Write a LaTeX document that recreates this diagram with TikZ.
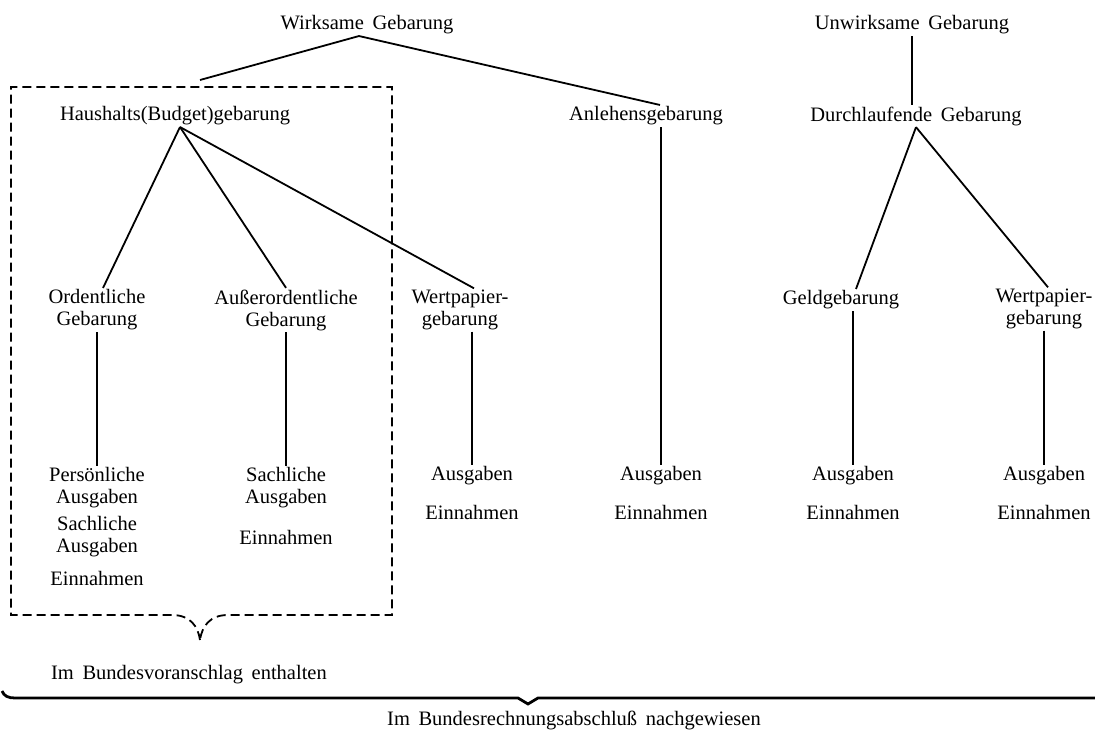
\documentclass[tikz,border=0pt]{standalone}
\usepackage{fontspec}
\setmainfont{Liberation Serif}
\usetikzlibrary{calc}
\newcommand\mylblfont{\fontsize{20.5}{22}\selectfont\spaceskip=0.42em plus 0.1em minus 0.05em\relax}
\begin{document}
\begin{tikzpicture}[x=1pt,y=-1pt,
  lbl/.style={inner sep=1.5pt, align=center, font=\mylblfont},
  edge/.style={line width=1.8pt},
  box/.style={line width=1.8pt, dash pattern=on 9pt off 5pt},
  bigbrace/.style={line width=2.8pt}]
\useasboundingbox (0,0) rectangle (1095,742);
% top level
\node[lbl] (W) at (367,25) {Wirksame Gebarung};
\node[lbl] (U) at (912,25) {Unwirksame Gebarung};
% second level
\node[lbl] (H) at (175,116) {Haushalts(Budget)gebarung};
\node[lbl] (A) at (646,116) {Anlehensgebarung};
\node[lbl] (D) at (916,116) {Durchlaufende Gebarung};
% third level
\node[lbl] (O) at (97,310) {Ordentliche\\Gebarung};
\node[lbl] (AO) at (286,310) {Außerordentliche\\Gebarung};
\node[lbl] (WP) at (460,310) {Wertpapier-\\gebarung};
\node[lbl] (G) at (841,300) {Geldgebarung};
\node[lbl] (WP2) at (1044,309) {Wertpapier-\\gebarung};
% fourth level
\node[lbl] (P1) at (97,488) {Persönliche\\Ausgaben};
\node[lbl] (P2) at (97,537) {Sachliche\\Ausgaben};
\node[lbl] (P3) at (97,578) {Einnahmen};
\node[lbl] (S1) at (286,488) {Sachliche\\Ausgaben};
\node[lbl] (S2) at (286,537) {Einnahmen};
\node[lbl] (X1) at (472,476) {Ausgaben};
\node[lbl] (X2) at (472,512) {Einnahmen};
\node[lbl] (Y1) at (661,476) {Ausgaben};
\node[lbl] (Y2) at (661,512) {Einnahmen};
\node[lbl] (Z1) at (853,476) {Ausgaben};
\node[lbl] (Z2) at (853,512) {Einnahmen};
\node[lbl] (Q1) at (1044,476) {Ausgaben};
\node[lbl] (Q2) at (1044,512) {Einnahmen};
% connectors
\coordinate (boxtop) at (200,80);
\draw[edge] ([xshift=-8pt]W.south) -- (boxtop);
\draw[edge] ([xshift=-8pt]W.south) -- ([xshift=14pt]A.north);
\draw[edge] (U.south) -- (U.south |- D.north);
\draw[edge] ([xshift=5pt]H.south) -- ([xshift=6pt]O.north);
\draw[edge] ([xshift=5pt]H.south) -- (AO.north);
\draw[edge] ([xshift=5pt]H.south) -- ([xshift=14pt]WP.north);
\draw[edge] (D.south) -- ([xshift=15pt]G.north);
\draw[edge] (D.south) -- ([xshift=4pt]WP2.north);
\draw[edge] (O.south) -- (P1.north);
\draw[edge] (AO.south) -- (S1.north);
\draw[edge] (X1.north |- WP.south) -- (X1.north);
\draw[edge] (Y1.north |- A.south) -- (Y1.north);
\draw[edge] (Z1.north |- G.south) -- (Z1.north);
\draw[edge] (WP2.south) -- (Q1.north);
% dashed box with brace
\coordinate (vtip) at (200,640);
\draw[box] (vtip) .. controls (198,626) and (190,615) .. (172,615) -- (11,615) -- (11,87) -- (392,87) -- (392,615) -- (228,615) .. controls (210,615) and (202,626) .. (vtip);
\node[lbl] (V) at (189,675) {Im Bundesvoranschlag enthalten};
% bottom brace
\coordinate (btip) at (528,704);
\draw[bigbrace] (2,691) .. controls (4,696) and (8,698) .. (15,698) -- (518,698) -- (btip) -- (538,698) -- (1095,698);
\node[lbl] (R) at (574,720) {Im Bundesrechnungsabschluß nachgewiesen};
\end{tikzpicture}
\end{document}
